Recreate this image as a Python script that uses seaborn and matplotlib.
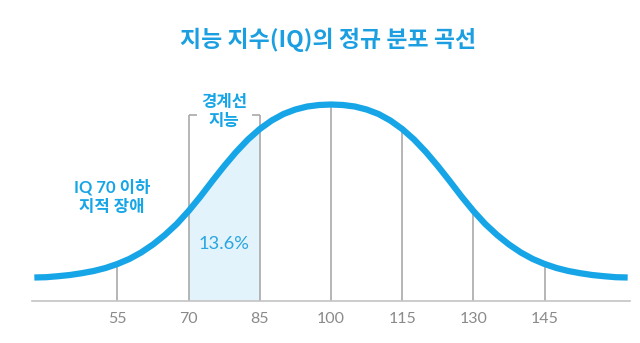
import matplotlib
matplotlib.use("Agg")
import matplotlib.pyplot as plt
import seaborn as sns
import pandas as pd

# ---- data ----
iq_values = [37.5, 40, 42.5, 45, 47.5, 50, 52.5, 55, 57.5, 60, 62.5, 65, 67.5, 70,
             72.5, 75, 77.5, 80, 82.5, 85, 87.5, 90, 92.5, 95, 97.5, 100,
             102.5, 105, 107.5, 110, 112.5, 115, 117.5, 120, 122.5, 125, 127.5, 130,
             132.5, 135, 137.5, 140, 142.5, 145, 147.5, 150, 152.5, 155, 157.5, 160, 162.5]
curve_height = [23, 23.3, 24.3, 25.5, 27.3, 29.5, 32.5, 36.5, 41.5, 48, 56, 65.5, 76.5, 89.5,
                104, 119.5, 134.5, 148.5, 161, 171.5, 180, 186.5, 191, 194, 195.5, 196,
                195.5, 194, 191, 186.5, 180, 171.5, 161, 148.5, 134.5, 119.5, 104, 89.5,
                76.5, 65.5, 56, 48, 41.5, 36.5, 32.5, 29.5, 27.3, 25.5, 24.3, 23.3, 23]
tick_values = [55, 70, 85, 100, 115, 130, 145]
tick_labels = ["55", "70", "85", "100", "115", "130", "145"]
band = (70, 85)
band_share = "13.6%"
title = "지능 지수(IQ)의 정규 분포 곡선"
left_note = "IQ 70 이하\n지적 장애"
band_note = "경계선\n지능"

df = pd.DataFrame({"IQ": iq_values, "h": curve_height})
lookup = dict(zip(iq_values, curve_height))

# ---- style ----
sns.set_theme(style="white")
plt.rcParams["font.family"] = ["Lato", "Noto Sans CJK KR", "DejaVu Sans"]
BLUE = "#16a5e6"
GREY = "#a9a9a9"

W, H = 640, 343
fig = plt.figure(figsize=(W / 100, H / 100), dpi=100)
axis_px = 300.5
ax = fig.add_axes([0, (H - axis_px) / H, 1, axis_px / H])

px_per_iq = 71.2 / 15.0
x_lo = 100 - 331 / px_per_iq
x_hi = 100 + (W - 331) / px_per_iq
ax.set_xlim(x_lo, x_hi)
ax.set_ylim(0, axis_px)

# shaded band under the curve
band_df = df[(df["IQ"] >= band[0]) & (df["IQ"] <= band[1])]
ax.fill_between(band_df["IQ"], 0, band_df["h"], color="#e3f3fb", zorder=1, lw=0)

# vertical guide lines up to the curve
bracket_top = 185.5
for v in tick_values:
    top = bracket_top if v in band else lookup[v]
    ax.vlines(v, 0, top, color=GREY, lw=1.2, zorder=2)

# bracket tops
bw = 1.7
ax.hlines(bracket_top, band[0], band[0] + bw, color=GREY, lw=1.2, zorder=2)
ax.hlines(bracket_top, band[1] - bw, band[1], color=GREY, lw=1.2, zorder=2)

# curve
sns.lineplot(data=df, x="IQ", y="h", ax=ax, color=BLUE, lw=4.5, zorder=3,
             solid_capstyle="butt")

# axis line
for s in ["top", "right", "left"]:
    ax.spines[s].set_visible(False)
ax.spines["bottom"].set_color("#c4c4c4")
ax.spines["bottom"].set_linewidth(1.2)
ax.spines["bottom"].set_bounds(100 - 299 / px_per_iq, 100 + 299 / px_per_iq)
ax.set_xticks(tick_values)
ax.set_xticklabels(tick_labels)
ax.set_yticks([])
ax.tick_params(axis="x", length=0, pad=8, labelsize=11.5, labelcolor="#8a8a8a")
ax.set_xlabel("")
ax.set_ylabel("")

# texts
fig.text(328 / W, 1 - 40 / H, title, ha="center", va="center", fontsize=16.5,
         fontweight="bold", color="#1b9fe0", family=["Noto Sans CJK KR", "DejaVu Sans"])
ax.text(100 + (112 - 331) / px_per_iq, axis_px - 197, left_note, ha="center",
        va="center", fontsize=12, fontweight="bold", color=BLUE, linespacing=1.2,
        family=["Lato", "Noto Sans CJK KR"])
ax.text(sum(band) / 2, axis_px - 111.5, band_note, ha="center", va="center",
        fontsize=12, fontweight="bold", color=BLUE, linespacing=1.1,
        family=["Noto Sans CJK KR", "DejaVu Sans"])
ax.text(sum(band) / 2, axis_px - 244, band_share, ha="center", va="center",
        fontsize=13.2, color="#29a6e0", family=["Lato", "DejaVu Sans"])

fig.savefig("out.png", dpi=100)
